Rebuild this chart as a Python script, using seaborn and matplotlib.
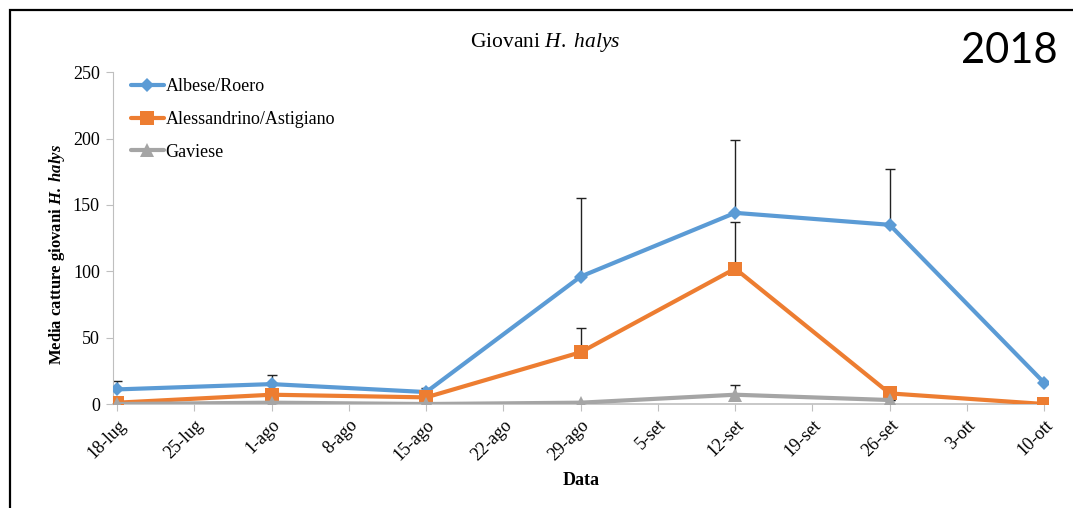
import numpy as np
import pandas as pd
import matplotlib
matplotlib.use('Agg')
import matplotlib.pyplot as plt
from matplotlib.patches import Rectangle
import seaborn as sb

# Data
dates = ['2018-07-18', '2018-08-01', '2018-08-15', '2018-08-29',
         '2018-09-12', '2018-09-26', '2018-10-10']
albese = [11, 15, 9, 96, 144, 135, 16]
albese_err = [6, 7, 3, 59, 55, 42, 0]
alessandrino = [1, 7, 5, 39, 102, 8, 0]
alessandrino_err = [0, 0, 0, 18, 35, 0, 0]
gaviese = [0, 1, 0, 1, 7, 3, np.nan]
gaviese_err = [0, 0, 0, 0, 7, 0, 0]
tick_labels = ['18-lug', '25-lug', '1-ago', '8-ago', '15-ago', '22-ago', '29-ago',
               '5-set', '12-set', '19-set', '26-set', '3-ott', '10-ott']
series = ['Albese/Roero', 'Alessandrino/Astigiano', 'Gaviese']
colors = ['#5B9BD5', '#ED7D31', '#A5A5A5']
markers = ['D', 's', '^']
marker_sizes = [7, 9.5, 10]

df = pd.DataFrame({
    'Data': pd.to_datetime(dates * 3),
    'valore': albese + alessandrino + gaviese,
    'err': albese_err + alessandrino_err + gaviese_err,
    'zona': np.repeat(series, len(dates)),
})

sb.set_style('white')
plt.rcParams['font.family'] = ['Liberation Serif', 'DejaVu Serif']
plt.rcParams['mathtext.fontset'] = 'custom'
plt.rcParams['mathtext.rm'] = 'Liberation Serif'
plt.rcParams['mathtext.it'] = 'Liberation Serif:italic'
plt.rcParams['mathtext.bf'] = 'Liberation Serif:bold'
plt.rcParams['mathtext.bfit'] = 'Liberation Serif:bold:italic'
plt.rcParams['text.color'] = 'black'
plt.rcParams['axes.labelcolor'] = 'black'

fig = plt.figure(figsize=(10.73, 5.08), dpi=100)
ax = fig.add_axes([0.1053, 0.2047, 0.8717, 0.6533])

# outer chart frame
fig.patches.append(Rectangle((0.0093, -0.1), 1.2, 1.08, transform=fig.transFigure,
                             fill=False, edgecolor='black', linewidth=1.6))

sb.lineplot(data=df, x='Data', y='valore', hue='zona', style='zona',
            palette=dict(zip(series, colors)), markers=dict(zip(series, markers)),
            dashes=False, linewidth=3, markeredgewidth=0, ax=ax, zorder=3,
            legend=False)

lines = list(ax.get_lines())
for line, ms in zip(lines, marker_sizes):
    line.set_markersize(ms)

# upper error bars only
for name in series:
    d = df[df['zona'] == name].dropna()
    ax.errorbar(d['Data'], d['valore'], yerr=[np.zeros(len(d)), d['err']],
                fmt='none', ecolor='#222222', elinewidth=1, capsize=3.5,
                capthick=1, zorder=2)

ax.set_ylim(0, 250)
ax.set_yticks(range(0, 251, 50))
ticks = pd.date_range(dates[0], dates[-1], freq='7D')
ax.set_xticks(ticks)
ax.set_xticklabels(tick_labels, rotation=45, ha='right', rotation_mode='anchor')
ax.set_xlim(pd.Timestamp(dates[0]) - pd.Timedelta(hours=9),
            pd.Timestamp(dates[-1]) + pd.Timedelta(hours=9))

for s in ['top', 'right']:
    ax.spines[s].set_visible(False)
ax.spines['left'].set_color('#BFBFBF')
ax.spines['bottom'].set_color('#BFBFBF')
ax.spines['bottom'].set_linewidth(1.2)
ax.tick_params(axis='both', which='major', length=5, color='#BFBFBF',
               labelcolor='black', labelsize=13, direction='out',
               left=True, bottom=True)
ax.tick_params(axis='y', pad=4.5)
ax.tick_params(axis='x', pad=4)

ax.set_xlabel('Data', fontsize=13, fontweight='bold', labelpad=6)
ax.set_ylabel(r'Media catture giovani $\mathbfit{H.\ halys}$', fontsize=12,
              fontweight='bold')
ax.yaxis.set_label_coords(-0.049, 0.452)

fig.text(0.508, 0.917, r'Giovani $\mathit{H.\ halys}$', ha='center', va='center',
         fontsize=15.5)
fig.text(0.941, 0.9, '2018', ha='center', va='center', fontsize=30,
         family=['Lato', 'DejaVu Sans'])

ax.legend(handles=lines[:3], labels=series, loc='upper left',
          bbox_to_anchor=(0.0118, 1.003), frameon=False, fontsize=13,
          handlelength=1.8, labelspacing=0.87, handletextpad=0.1,
          borderaxespad=0.0)

fig.savefig('out.png', dpi=100)
